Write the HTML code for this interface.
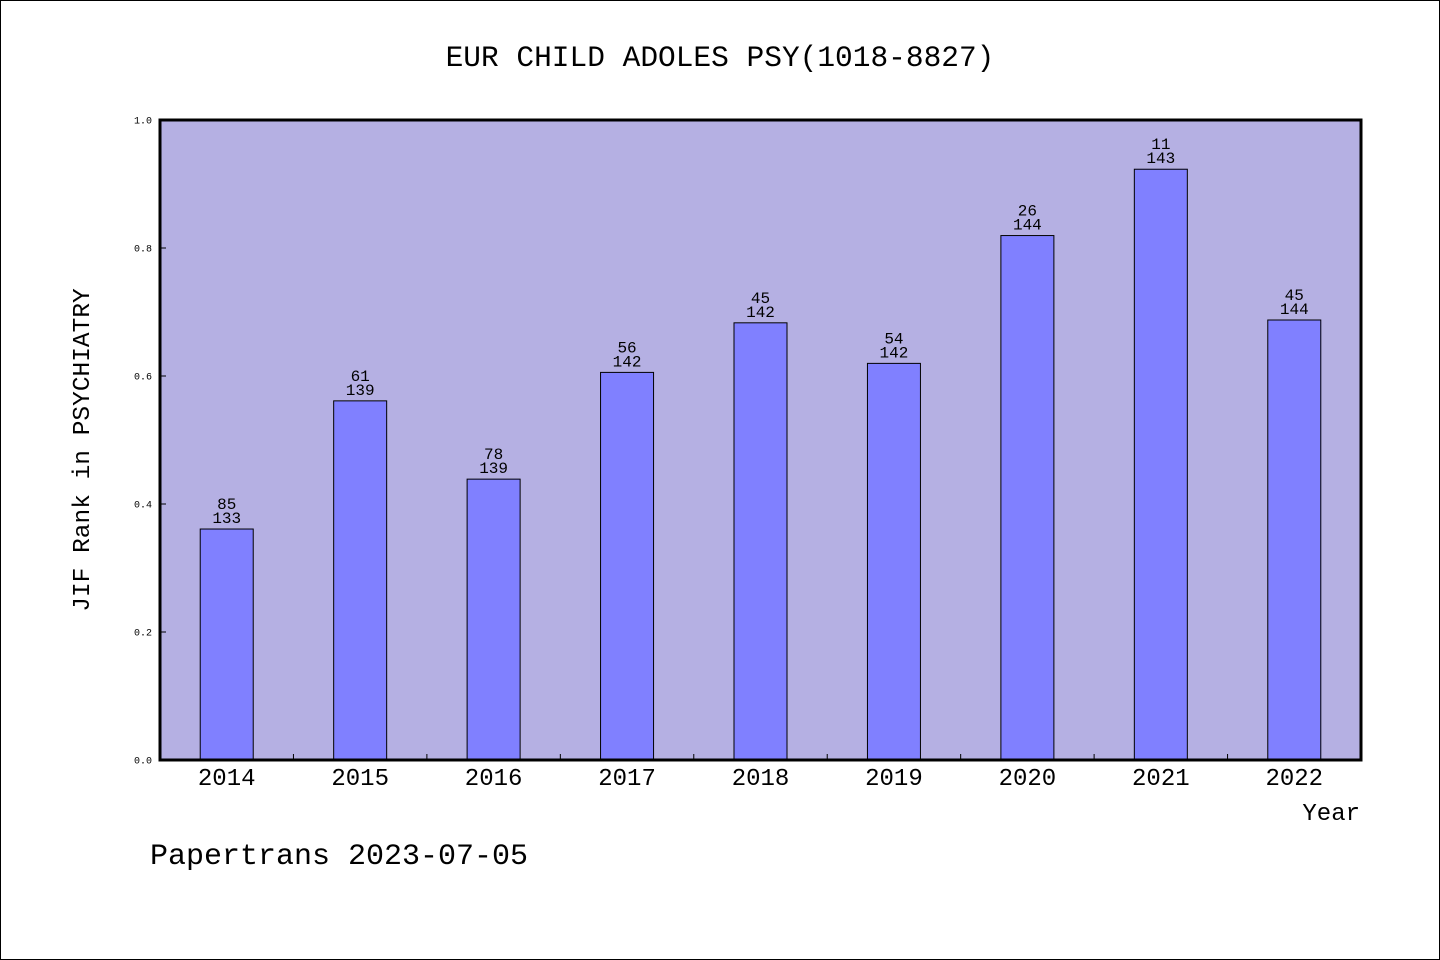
<!DOCTYPE html>
<html><head><meta charset="utf-8"><style>
body{margin:0;background:#fff}
svg{display:block}
text{font-family:"Liberation Mono","WenQuanYi Zen Hei",monospace;fill:#000}
</style></head><body>
<svg width="1440" height="960">
<rect x="0.5" y="0.5" width="1439" height="959" fill="#fff" stroke="#000"/>
<text x="720" y="66" font-size="29.5" text-anchor="middle">EUR CHILD ADOLES PSY(1018-8827)</text>
<rect x="160" y="120" width="1201" height="640" fill="#b5b0e3"/>
<g id="bars"></g>
<rect x="160" y="120" width="1201" height="640" fill="none" stroke="#000" stroke-width="3"/>
<text transform="translate(89,450) rotate(-90)" font-size="24.5" text-anchor="middle">JIF Rank in PSYCHIATRY</text>
<text x="1360" y="820" font-size="24" text-anchor="end">Year</text>
<text x="150" y="864" font-size="30">Papertrans 2023-07-05</text>
</svg>
<script>
const years=["2014","2015","2016","2017","2018","2019","2020","2021","2022"];
const ranks=[85,61,78,56,45,54,26,11,45];
const totals=[133,139,139,142,142,142,144,143,144];
const yTicks=["0.0","0.2","0.4","0.6","0.8","1.0"];
const ns="http://www.w3.org/2000/svg";
const svg=document.querySelector("svg"),g=document.getElementById("bars");
const X0=160,W=1201,Y0=760,H=640;
const band=W/years.length;
const y=v=>Y0-v*H;
function mk(t,a,p){const e=document.createElementNS(ns,t);for(const k in a)e.setAttribute(k,a[k]);(p||svg).appendChild(e);return e;}
yTicks.forEach(t=>{const v=parseFloat(t);
 const l=mk("line",{x1:X0,x2:X0+6,y1:y(v),y2:y(v),stroke:"#000"});
 
 
 const tx=mk("text",{x:X0-8,y:y(v)+3.5,"font-size":10,"text-anchor":"end"});tx.textContent=t;
 
 
});
years.forEach((yr,i)=>{
 const v=1-ranks[i]/totals[i];const cx=X0+band*(i+0.5);
 const r=mk("rect",{x:cx-26.5,y:y(v),width:53,height:v*H,fill:"#8080ff",stroke:"#000","stroke-width":1},g);
 
 
 const a=mk("text",{x:cx,y:y(v)-20,"font-size":16,"text-anchor":"middle"});a.textContent=ranks[i];
 
 
 const b=mk("text",{x:cx,y:y(v)-6,"font-size":16,"text-anchor":"middle"});b.textContent=totals[i];
 
 
 const xl=mk("text",{x:cx,y:785,"font-size":24,"text-anchor":"middle"});xl.textContent=yr;
 
 
 if(i>0){const t=mk("line",{x1:X0+band*i,x2:X0+band*i,y1:Y0,y2:Y0-6,stroke:"#000"});
 
 }
});
</script>
</body></html>
